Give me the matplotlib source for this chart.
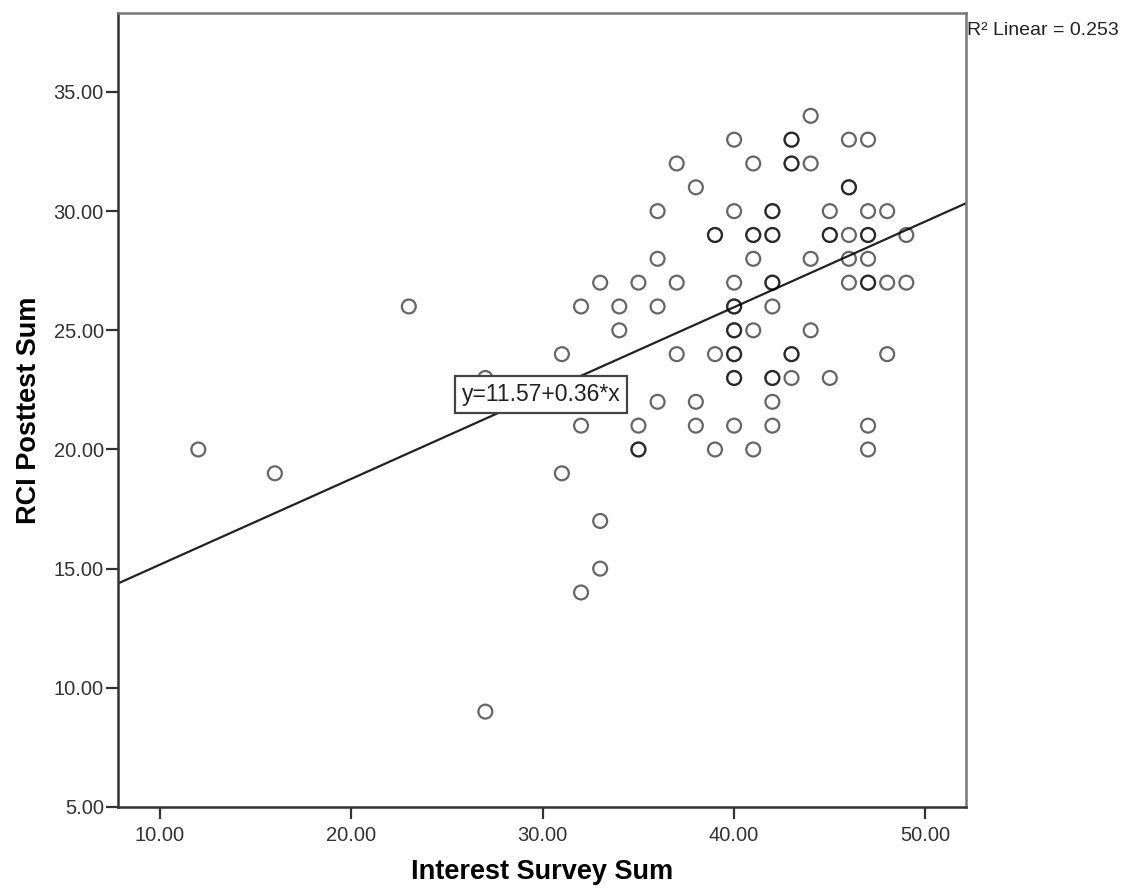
import matplotlib
matplotlib.use("Agg")
import matplotlib.pyplot as plt

# Interest Survey Sum (x) vs RCI Posttest Sum (y); repeated pairs are real duplicates
interest_sum = [12, 16, 23, 27, 27,
                31, 31, 32, 32, 32, 33, 33, 33, 34, 34,
                35, 35, 35, 35, 36, 36, 36, 36, 37, 37, 37, 38, 38, 38,
                39, 39, 39, 39,
                40, 40, 40, 40, 40, 40, 40, 40, 40, 40, 40, 40,
                41, 41, 41, 41, 41, 41,
                42, 42, 42, 42, 42, 42, 42, 42, 42, 42, 42,
                43, 43, 43, 43, 43, 43, 43,
                44, 44, 44, 44, 45, 45, 45, 45,
                46, 46, 46, 46, 46, 46,
                47, 47, 47, 47, 47, 47, 47, 47, 47,
                48, 48, 48, 49, 49]
rci_posttest = [20, 19, 26, 23, 9,
                24, 19, 26, 21, 14, 27, 17, 15, 26, 25,
                27, 21, 20, 20, 30, 28, 26, 22, 32, 27, 24, 31, 22, 21,
                29, 29, 24, 20,
                33, 30, 27, 26, 26, 25, 25, 24, 24, 23, 23, 21,
                32, 29, 29, 28, 25, 20,
                30, 30, 29, 29, 27, 27, 26, 23, 23, 22, 21,
                33, 33, 32, 32, 24, 24, 23,
                34, 32, 28, 25, 30, 29, 29, 23,
                33, 31, 31, 29, 28, 27,
                33, 30, 29, 29, 28, 27, 27, 21, 20,
                30, 27, 24, 29, 27]

intercept = 11.57
slope = 0.36
r_squared = 0.253

x_ticks = [10, 20, 30, 40, 50]
y_ticks = [5, 10, 15, 20, 25, 30, 35]
x_range = (7.82, 52.1)
y_range = (5.0, 38.3)

plt.rcParams['font.family'] = ['Liberation Sans', 'DejaVu Sans']

fig = plt.figure(figsize=(11.26, 8.9), dpi=100)
ax = fig.add_axes([0.1051, 0.0933, 0.7525, 0.8917])

ax.scatter(interest_sum, rci_posttest, s=100, facecolors='none',
           edgecolors='black', linewidths=1.6, alpha=0.6, zorder=3)

ax.plot(list(x_range), [intercept + slope * v for v in x_range],
        color='#222222', linewidth=1.6, zorder=2)

ax.text(29.9, 22.3, f"y={intercept:.2f}+{slope:.2f}*x", fontsize=16.5,
        ha='center', va='center', color='#222222', zorder=5,
        bbox=dict(boxstyle='square,pad=0.3', facecolor='white',
                  edgecolor='#444444', linewidth=1.6))

ax.set_xlim(*x_range)
ax.set_ylim(*y_range)
ax.set_xticks(x_ticks)
ax.set_yticks(y_ticks)
ax.set_xticklabels([f"{t:.2f}" for t in x_ticks])
ax.set_yticklabels([f"{t:.2f}" for t in y_ticks])
ax.tick_params(direction='out', length=8.5, width=1.6, colors='#333333',
               labelsize=14.5)
ax.tick_params(axis='x', pad=5)
ax.tick_params(axis='y', pad=2)

for side in ['left', 'bottom']:
    ax.spines[side].set_color('#333333')
    ax.spines[side].set_linewidth(1.8)
for side in ['top', 'right']:
    ax.spines[side].set_color('#777777')
    ax.spines[side].set_linewidth(1.8)

ax.set_xlabel("Interest Survey Sum", fontsize=19.5, fontweight='bold', labelpad=10)
ax.set_ylabel("RCI Posttest Sum", fontsize=19.5, fontweight='bold', labelpad=8)

fig.text(0.859, 0.966, f"R\u00b2 Linear = {r_squared:.3f}", fontsize=14,
         ha='left', va='center', color='#222222')

fig.savefig("out.png", dpi=100)
